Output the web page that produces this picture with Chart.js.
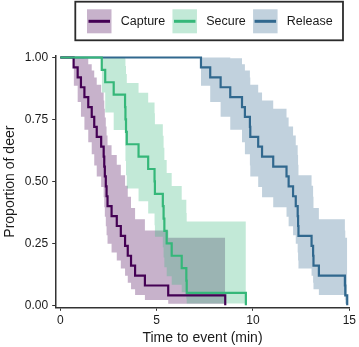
<!DOCTYPE html>
<html><head><meta charset="utf-8">
<script src="https://cdn.jsdelivr.net/npm/chart.js@4/dist/chart.umd.min.js"></script>
<style>html,body{margin:0;padding:0;background:#fff}#wrap{width:359px;height:347px}</style>
</head><body><div id="wrap"><canvas id="c" width="359" height="347"></canvas></div>
<script>
// ---- data ----
const groups = ['Capture', 'Secure', 'Release'];
const lineColors = ['#440154', '#35B779', '#31688E'];
const bandColors = ['rgba(68,1,84,0.3)', 'rgba(53,183,121,0.3)', 'rgba(49,104,142,0.3)'];

// event times (min) and survival after each event
const captureTimes = [0.69, 0.90, 1.07, 1.25, 1.45, 1.63, 1.76, 1.89, 2.12, 2.25, 2.28, 2.31, 2.36, 2.40, 2.45, 2.66, 2.93, 3.14, 3.36, 3.50, 3.67, 3.88, 4.39, 5.60, 8.56];
const captureSurv  = [0.96, 0.92, 0.88, 0.84, 0.80, 0.76, 0.72, 0.68, 0.64, 0.60, 0.56, 0.52, 0.48, 0.44, 0.40, 0.36, 0.32, 0.28, 0.24, 0.20, 0.16, 0.12, 0.08, 0.04, 0.00];
const captureLower = [0.886, 0.820, 0.761, 0.708, 0.658, 0.610, 0.564, 0.520, 0.477, 0.436, 0.396, 0.357, 0.319, 0.283, 0.248, 0.213, 0.181, 0.149, 0.119, 0.091, 0.065, 0.042, 0.021, 0.006];
const captureUpper = [1.000, 1.000, 1.000, 0.997, 0.973, 0.947, 0.919, 0.890, 0.859, 0.826, 0.793, 0.758, 0.722, 0.685, 0.646, 0.607, 0.567, 0.525, 0.482, 0.438, 0.393, 0.347, 0.302, 0.273];

const secureTimes = [2.15, 2.33, 2.77, 3.36, 3.38, 3.41, 3.45, 4.06, 4.56, 4.89, 4.91, 5.32, 5.36, 5.40, 5.52, 5.78, 6.30, 6.54, 6.56, 9.63];
const secureSurv  = [0.95, 0.90, 0.85, 0.80, 0.75, 0.70, 0.65, 0.60, 0.55, 0.50, 0.45, 0.40, 0.35, 0.30, 0.25, 0.20, 0.15, 0.10, 0.05, 0.00];
const secureLower = [0.859, 0.778, 0.707, 0.643, 0.582, 0.525, 0.471, 0.420, 0.370, 0.323, 0.277, 0.234, 0.193, 0.154, 0.117, 0.083, 0.053, 0.027, 0.007];
const secureUpper = [1.000, 1.000, 1.000, 0.996, 0.966, 0.933, 0.897, 0.858, 0.818, 0.775, 0.731, 0.684, 0.636, 0.586, 0.534, 0.481, 0.426, 0.372, 0.338];

const releaseTimes = [7.30, 7.78, 8.32, 8.82, 9.43, 9.58, 9.84, 9.86, 10.27, 10.47, 11.05, 11.74, 11.85, 12.08, 12.22, 12.32, 12.34, 12.36, 13.04, 13.12, 13.14, 13.42, 14.77, 14.79, 14.89];
const releaseSurv  = [0.96, 0.92, 0.88, 0.84, 0.80, 0.76, 0.72, 0.68, 0.64, 0.60, 0.56, 0.52, 0.48, 0.44, 0.40, 0.36, 0.32, 0.28, 0.24, 0.20, 0.16, 0.12, 0.08, 0.04, 0.00];
const releaseLower = [0.886, 0.820, 0.761, 0.708, 0.658, 0.610, 0.564, 0.520, 0.477, 0.436, 0.396, 0.357, 0.319, 0.283, 0.248, 0.213, 0.181, 0.149, 0.119, 0.091, 0.065, 0.042, 0.021, 0.006];
const releaseUpper = [1.000, 1.000, 1.000, 0.997, 0.973, 0.947, 0.919, 0.890, 0.859, 0.826, 0.793, 0.758, 0.722, 0.685, 0.646, 0.607, 0.567, 0.525, 0.482, 0.438, 0.393, 0.347, 0.302, 0.273];

const xTicks = [0, 5, 10, 15];
const yTicks = [0, 0.25, 0.5, 0.75, 1];
const xTitle = 'Time to event (min)';
const yTitle = 'Proportion of deer';

// ---- helpers ----
function lineData(times, surv) {
  const d = [{x: 0, y: 1}];
  times.forEach((t, i) => d.push({x: t, y: surv[i]}));
  return d;
}
function bandData(times, vals) {
  const d = vals.map((v, i) => ({x: times[i], y: v}));
  d.push({x: times[times.length - 1], y: vals[vals.length - 1]});
  return d;
}
const FONT = '"Liberation Sans", Arial, Helvetica, sans-serif';
const series = [
  [captureTimes, captureSurv, captureLower, captureUpper],
  [secureTimes, secureSurv, secureLower, secureUpper],
  [releaseTimes, releaseSurv, releaseLower, releaseUpper]
];
const bandOrder = [11, 10, 12];
const lineOrder = [2, 1, 3];
const datasets = [];
series.forEach((s, g) => {
  datasets.push({label: groups[g] + ' upper', data: bandData(s[0], s[3]), stepped: 'before', borderColor: 'rgba(0,0,0,0)', borderWidth: 0, pointRadius: 0, fill: false, order: bandOrder[g]});
  datasets.push({label: groups[g] + ' lower', data: bandData(s[0], s[2]), stepped: 'before', borderColor: 'rgba(0,0,0,0)', borderWidth: 0, pointRadius: 0, fill: '-1', backgroundColor: bandColors[g], order: bandOrder[g]});
});
series.forEach((s, g) => {
  datasets.push({label: groups[g], data: lineData(s[0], s[1]), stepped: 'before', borderColor: lineColors[g], borderWidth: 2.2, pointRadius: 0, fill: false, order: lineOrder[g]});
});

const legendTweak = {
  id: 'legendTweak',
  beforeLayout(chart) {
    const lg = chart.legend;
    if (!lg || lg._tw) return;
    lg._tw = true;
    const of = lg.fit;
    lg.fit = function() { of.call(this); this.height = 56; };
    const od = lg.draw;
    lg.draw = function() {
      const ctx = this.ctx;
      const hb = this.legendHitBoxes;
      if (!hb || !hb.length) { od.call(this); return; }
      const dx = 87 - hb[0].left, dy = 9.3 - hb[0].top;
      ctx.save();
      ctx.translate(dx, dy);
      // swatches
      hb.forEach((h, i) => {
        ctx.fillStyle = '#fff';
        ctx.fillRect(h.left, h.top, 24.5, 24);
        ctx.fillStyle = bandColors[i];
        ctx.fillRect(h.left, h.top, 24.5, 24);
        ctx.beginPath();
        ctx.moveTo(h.left + 1.5, h.top + 12);
        ctx.lineTo(h.left + 23, h.top + 12);
        ctx.strokeStyle = lineColors[i];
        ctx.lineWidth = 3;
        ctx.stroke();
      });
      od.call(this);
      const last = hb[hb.length - 1];
      ctx.strokeStyle = '#2b2b2b';
      ctx.lineWidth = 1.8;
      const L = hb[0].left - 11.7, T = hb[0].top - 7.6;
      const R = last.left + last.width + 10.3, B = hb[0].top + 24 + 7;
      ctx.strokeRect(L, T, R - L, B - T);
      ctx.restore();
    };
  }
};

new Chart(document.getElementById('c'), {
  type: 'line',
  data: {datasets},
  plugins: [legendTweak],
  options: {
    responsive: false,
    devicePixelRatio: 1,
    animation: false,
    layout: {padding: {left: 0, right: 9.5, top: 0, bottom: 0}},
    plugins: {
      tooltip: {enabled: false},
      legend: {
        display: true,
        position: 'top',
        fullSize: false,
        onClick: null,
        labels: {
          boxWidth: 27.5,
          boxHeight: 24,
          padding: 7.25,
          color: '#1a1a1a',
          font: {size: 12.5, family: FONT},
          generateLabels: () => groups.map((g, i) => ({text: g, fillStyle: 'rgba(0,0,0,0)', strokeStyle: 'rgba(0,0,0,0)', lineWidth: 0, hidden: false, fontColor: '#1a1a1a', datasetIndex: 6 + i}))
        }
      }
    },
    scales: {
      x: {
        type: 'linear', min: -0.24, max: 15,
        afterBuildTicks: s => { s.ticks = xTicks.map(v => ({value: v})); },
        afterFit: s => { s.height = 39.7; },
        ticks: {font: {size: 12, family: FONT}, color: '#1a1a1a', padding: 3, maxRotation: 0, autoSkip: false},
        grid: {display: true, drawOnChartArea: false, drawTicks: true, tickLength: 3.5, color: '#333', lineWidth: 1},
        border: {display: true, color: '#333', width: 1.5},
        title: {display: true, text: xTitle, color: '#1a1a1a', font: {size: 14, family: FONT}, padding: {top: 2, bottom: 0}}
      },
      y: {
        type: 'linear', min: -0.008, max: 1.006,
        afterBuildTicks: s => { s.ticks = yTicks.map(v => ({value: v})); },
        afterFit: s => { s.width = 55.7; },
        ticks: {font: {size: 12, family: FONT}, color: '#1a1a1a', padding: 4, callback: v => Number(v).toFixed(2)},
        grid: {display: true, drawOnChartArea: false, drawTicks: true, tickLength: 3.5, color: '#333', lineWidth: 1},
        border: {display: true, color: '#333', width: 1.5},
        title: {display: true, text: yTitle, color: '#1a1a1a', font: {size: 14, family: FONT}, padding: {top: 2, bottom: 0}}
      }
    }
  }
});
</script>
</body></html>
